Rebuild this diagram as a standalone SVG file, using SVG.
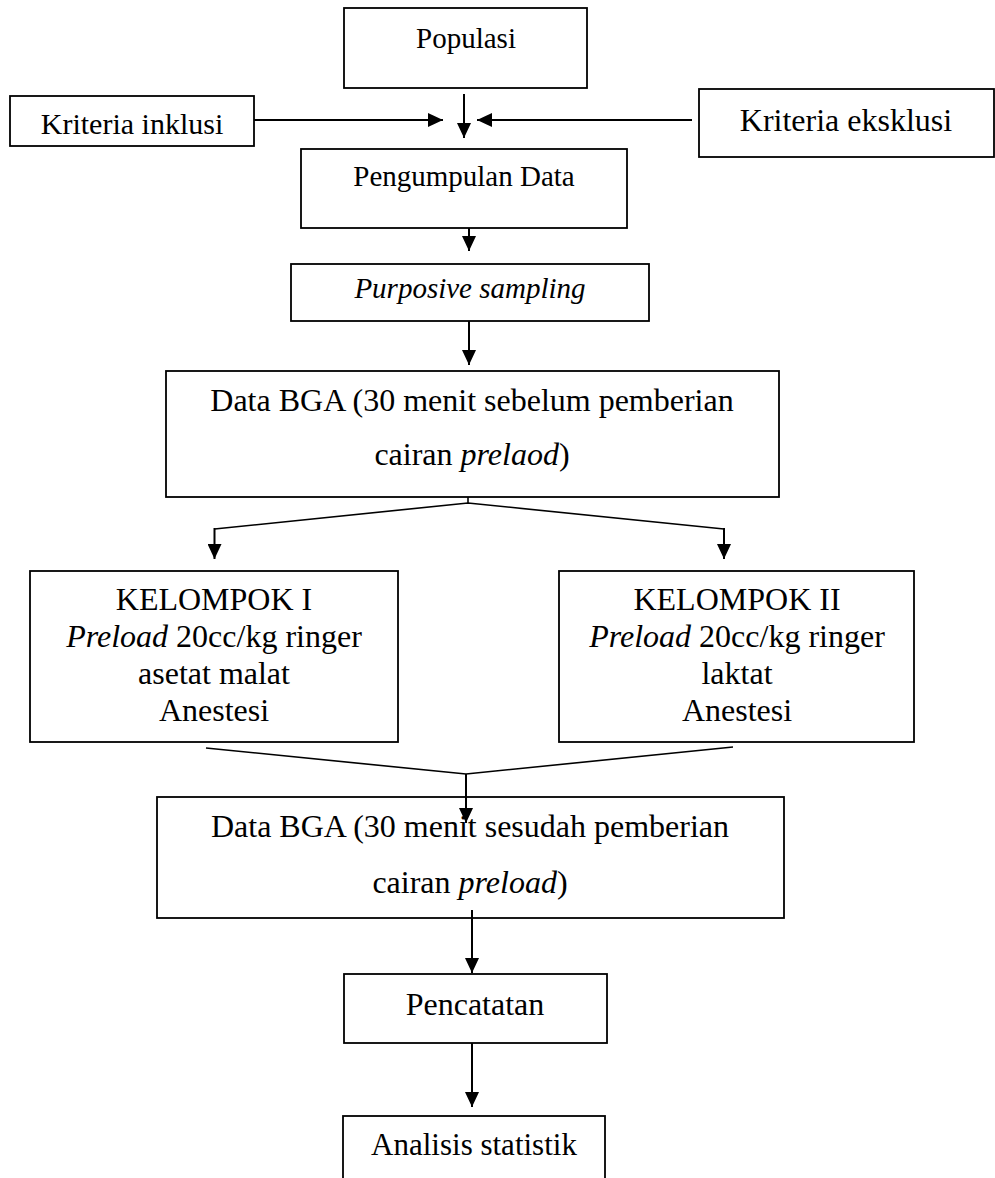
<svg xmlns="http://www.w3.org/2000/svg" width="995" height="1178" viewBox="0 0 995 1178">
<style>
.box{fill:#fff;stroke:#000;stroke-width:1.8}
.t{font-family:"Liberation Serif","Times New Roman",serif;fill:#000;text-anchor:middle}
.c{fill:none;stroke:#000;stroke-width:2}
.l{fill:none;stroke:#000;stroke-width:1.6}
</style>
<defs>
<marker id="ah" viewBox="0 0 15 14" refX="15" refY="7" markerWidth="15" markerHeight="14" markerUnits="userSpaceOnUse" orient="auto">
<path d="M0,0 L15,7 L0,14 z" fill="#000"/>
</marker>
</defs>
<rect width="995" height="1178" fill="#fff"/>
<g id="populasi">
<rect class="box" x="344" y="8" width="243" height="80"/>
<text class="t" x="466" y="48" font-size="29">Populasi</text>
</g>
<g id="inklusi">
<rect class="box" x="10" y="96" width="244" height="50"/>
<text class="t" x="132" y="134" font-size="30">Kriteria inklusi</text>
</g>
<g id="eksklusi">
<rect class="box" x="699" y="89" width="295" height="68"/>
<text class="t" x="846" y="131" font-size="32">Kriteria eksklusi</text>
</g>
<g id="pengumpulan">
<rect class="box" x="301" y="149" width="326" height="79"/>
<text class="t" x="464" y="186" font-size="29">Pengumpulan Data</text>
</g>
<g id="purposive">
<rect class="box" x="291" y="264" width="358" height="57"/>
<text class="t" x="470" y="298" font-size="29" font-style="italic">Purposive sampling</text>
</g>
<g id="bga1">
<rect class="box" x="166" y="371" width="613" height="126"/>
<text class="t" x="472" y="411" font-size="32">Data BGA (30 menit sebelum pemberian</text>
<text class="t" x="472" y="465" font-size="32">cairan <tspan font-style="italic">prelaod</tspan>)</text>
</g>
<g id="kelompok1">
<rect class="box" x="30" y="571" width="368" height="171"/>
<text class="t" x="214" y="610" font-size="32">KELOMPOK I</text>
<text class="t" x="214" y="647" font-size="32"><tspan font-style="italic">Preload</tspan> 20cc/kg ringer</text>
<text class="t" x="214" y="684" font-size="32">asetat malat</text>
<text class="t" x="214" y="721" font-size="32">Anestesi</text>
</g>
<g id="kelompok2">
<rect class="box" x="559" y="571" width="355" height="171"/>
<text class="t" x="737" y="610" font-size="32">KELOMPOK II</text>
<text class="t" x="737" y="647" font-size="32"><tspan font-style="italic">Preload</tspan> 20cc/kg ringer</text>
<text class="t" x="737" y="684" font-size="32">laktat</text>
<text class="t" x="737" y="721" font-size="32">Anestesi</text>
</g>
<g id="bga2">
<rect class="box" x="157" y="797" width="627" height="121"/>
<text class="t" x="470" y="837" font-size="32">Data BGA (30 menit sesudah pemberian</text>
<text class="t" x="470" y="893" font-size="32">cairan <tspan font-style="italic">preload</tspan>)</text>
</g>
<g id="pencatatan">
<rect class="box" x="344" y="974" width="263" height="69"/>
<text class="t" x="475" y="1015" font-size="32">Pencatatan</text>
</g>
<g id="analisis">
<rect class="box" x="343" y="1116" width="262" height="80"/>
<text class="t" x="474" y="1155" font-size="31">Analisis statistik</text>
</g>
<g id="connectors">
<line class="c" x1="464" y1="94" x2="464" y2="138" marker-end="url(#ah)"/>
<line class="c" x1="254" y1="120" x2="443" y2="120" stroke-width="2.6" marker-end="url(#ah)"/>
<line class="c" x1="692" y1="120" x2="477" y2="120" stroke-width="2.6" marker-end="url(#ah)"/>
<line class="c" x1="469" y1="228" x2="469" y2="251" marker-end="url(#ah)"/>
<line class="c" x1="469" y1="321" x2="469" y2="365" marker-end="url(#ah)"/>
<polyline class="l" points="468,497 468,503"/>
<polyline class="l" points="214.5,529 468,503 724,529"/>
<line class="c" x1="214.5" y1="528" x2="214.5" y2="559" marker-end="url(#ah)"/>
<line class="c" x1="724" y1="528" x2="724" y2="559" marker-end="url(#ah)"/>
<polyline class="l" points="206,748 466,774 733,747"/>
<line class="c" x1="466" y1="774" x2="466" y2="823" marker-end="url(#ah)"/>
<line class="c" x1="472" y1="910" x2="472" y2="973" marker-end="url(#ah)"/>
<line class="c" x1="472" y1="1043" x2="472" y2="1107" marker-end="url(#ah)"/>
</g>
</svg>
